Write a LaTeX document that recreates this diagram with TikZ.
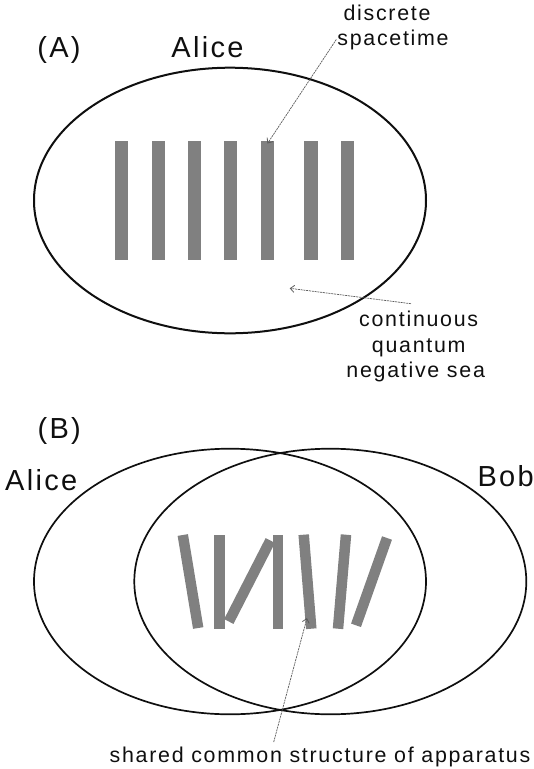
\documentclass[tikz,border=0pt]{standalone}
\usepackage{fontspec}
\setmainfont{Liberation Sans}
\newfontfamily\labfont{Liberation Sans}[LetterSpace=8.0]
\usetikzlibrary{arrows.meta}
\definecolor{barGray}{RGB}{128,128,128}
\definecolor{inkCol}{RGB}{15,15,15}
\definecolor{ptrCol}{RGB}{90,90,90}
\tikzset{
  bigtxt/.style={font=\labfont\fontsize{29}{33}\selectfont, text=inkCol, inner sep=0pt, anchor=base},
  smalltxt/.style={font=\labfont\fontsize{21.4}{24.5}\selectfont, text=inkCol, inner sep=0pt, anchor=base},
  setA/.style={draw=inkCol, line width=2.0pt},
  setB/.style={draw=inkCol, line width=1.7pt},
  barA/.style={fill=barGray, draw=none},
  barB/.style={draw=barGray, line width=10.5pt, line cap=butt},
  pointer/.style={draw=ptrCol, line width=0.7pt, dash pattern=on 2pt off 0.8pt, -{Straight Barb[length=4pt,width=7pt,line width=0.8pt]}}
}
\begin{document}
\begin{tikzpicture}[x=1pt,y=-1pt]
\useasboundingbox (0,0) rectangle (534,769);
% ---------- Panel A ----------
\node[bigtxt] (labA) at (59,57) {(A)};
\node[bigtxt] (aliceA) at (207.5,57) {Alice};
\draw[setA] (230,200.5) ellipse [x radius=196, y radius=132.8];
\foreach \cx in {121.7,158.2,194.3,230.8,267.2,311,347.7}{
  \fill[barA] (\cx-6.6,141) rectangle (\cx+6.6,260);
}
\node[smalltxt] (disc1) at (387,20.7) {discrete};
\node[smalltxt] (disc2) at (393,45) {spacetime};
\coordinate (discStart) at (336.3,39.5);
\coordinate (discTip) at (267.5,143.5);
\draw[pointer] (discStart) -- (discTip);
\node[smalltxt] (cont1) at (418.7,326) {continuous};
\node[smalltxt] (cont2) at (418.7,352.7) {quantum};
\node[smalltxt] (cont3) at (415.7,377) {negative sea};
\coordinate (contStart) at (411,303.7);
\coordinate (contTip) at (289.7,288.3);
\draw[pointer] (contStart) -- (contTip);
% ---------- Panel B ----------
\node[bigtxt] (labB) at (59.2,438.7) {(B)};
\node[bigtxt] (aliceB) at (41.3,490) {Alice};
\node[bigtxt, anchor=base east] (bobB) at (534,486) {Bob};
\draw[setB] (230,581.5) ellipse [x radius=196, y radius=132.8];
\draw[setB] (330.3,581.5) ellipse [x radius=196, y radius=132.8];
\draw[barB] (182.8,535) -- (198.2,628);
\draw[barB] (219.5,535) -- (219.5,629);
\draw[barB] (228.8,621.5) -- (270.3,540.5);
\draw[barB] (278,535) -- (278,628.5);
\draw[barB] (303.7,534.7) -- (311.3,628.7);
\draw[barB] (346,534.7) -- (338,628.7);
\draw[barB] (387,538) -- (356,625.3);
\node[smalltxt] (shared) at (320,762) {shared common structure of apparatus};
\coordinate (sharedStart) at (273.7,742);
\coordinate (sharedTip) at (307,618);
\draw[pointer] (sharedStart) -- (sharedTip);
\end{tikzpicture}
\end{document}
